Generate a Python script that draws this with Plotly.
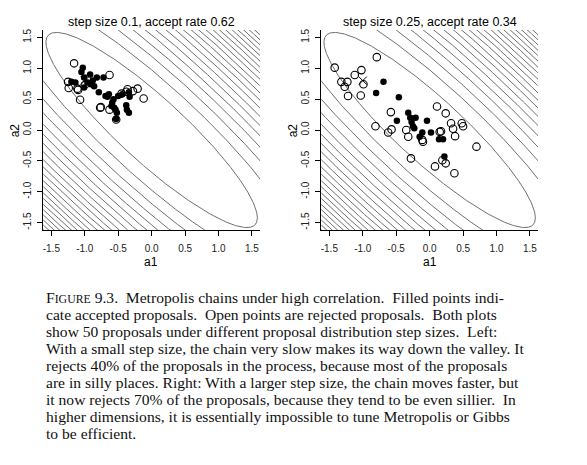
import numpy as np
import plotly.graph_objects as go

# target: bivariate normal, high negative correlation; contours of Mahalanobis Q
rho = -0.9
levels = [2.5 * k for k in range(1, 22)]

# left panel: step size 0.1
left_acc_a1 = [-1.03, -1.05, -0.92, -1.01, -0.82, -0.72, -1.14, -0.96, -0.91, -0.86, -1.01,
               -0.79, -0.64, -0.66, -0.57, -0.59, -0.44, -0.34, -0.33, -0.54, -0.52, -0.37,
               -0.34, -0.53, -1.20, -0.88, -0.60, -0.56, -0.38, -0.69, -0.50]
left_acc_a2 = [1.01, 0.94, 0.90, 0.85, 0.85, 0.85, 0.77, 0.77, 0.74, 0.71, 0.69,
               0.61, 0.58, 0.54, 0.50, 0.44, 0.58, 0.61, 0.54, 0.33, 0.28, 0.33,
               0.28, 0.18, 0.78, 0.80, 0.39, 0.36, 0.40, 0.55, 0.55]
left_rej_a1 = [-1.16, -1.25, -1.24, -1.11, -1.10, -1.07, -0.96, -0.63, -0.77, -0.76,
               -0.63, -0.45, -0.36, -0.28, -0.21, -0.12, -0.53, -0.38, -1.00]
left_rej_a2 = [1.08, 0.78, 0.68, 0.67, 0.65, 0.49, 0.83, 0.89, 0.36, 0.37,
               0.33, 0.59, 0.66, 0.63, 0.67, 0.51, 0.17, 0.62, 0.73]

# right panel: step size 0.25
right_acc_a1 = [-0.69, -0.80, -0.46, -0.49, -0.32, -0.29, -0.27, -0.21, -0.23, -0.04,
                -0.11, 0.02, -0.15, 0.14, 0.20, 0.22, -0.25]
right_acc_a2 = [0.78, 0.60, 0.53, 0.15, 0.28, 0.20, 0.13, 0.20, 0.03, 0.15,
                -0.04, -0.04, -0.11, -0.15, -0.15, -0.43, 0.06]
right_rej_a1 = [-1.42, -0.79, -1.02, -1.12, -1.32, -1.23, -1.27, -1.22, -1.03, -0.99,
                -0.81, -0.58, -0.57, -0.62, -0.35, -0.32, -0.11, -0.10, -0.28, 0.08,
                0.11, 0.24, 0.15, 0.17, 0.32, 0.35, 0.38, 0.48, 0.50, 0.70,
                0.19, 0.24, 0.37]
right_rej_a2 = [1.01, 1.18, 0.97, 0.89, 0.78, 0.78, 0.70, 0.55, 0.56, 0.74,
                0.06, 0.29, 0.01, -0.04, 0.0, -0.11, -0.16, -0.19, -0.46, -0.59,
                0.38, 0.27, -0.03, -0.02, 0.11, 0.02, -0.10, 0.11, 0.06, -0.27,
                -0.49, -0.54, -0.70]

start_a1 = [-1.0]
start_a2 = [0.8]

titles = ["step size 0.1, accept rate 0.62", "step size 0.25, accept rate 0.34"]
tick_vals = [-1.5, -1.0, -0.5, 0.0, 0.5, 1.0, 1.5]
tick_text = ["-1.5", "-1.0", "-0.5", "0.0", "0.5", "1.0", "1.5"]

caption = [
    'F<span style="font-size:11.8px">IGURE</span> 9.3.  Metropolis chains under high correlation.  Filled points indi-',
    "cate accepted proposals.  Open points are rejected proposals.  Both plots",
    "show 50 proposals under different proposal distribution step sizes.  Left:",
    "With a small step size, the chain very slow makes its way down the valley. It",
    "rejects 40% of the proposals in the process, because most of the proposals",
    "are in silly places. Right: With a larger step size, the chain moves faster, but",
    "it now rejects 70% of the proposals, because they tend to be even sillier.  In",
    "higher dimensions, it is essentially impossible to tune Metropolis or Gibbs",
    "to be efficient.",
]

# page has an 8px body margin, so the figure is a bit smaller and shifted
PAD = 8
W, H = 587 - PAD, 465 - PAD


def px(x):
    return (x - PAD) / W


def py(y):
    return 1 - (y - PAD) / H


rng = [-1.62, 1.62]

# contour ellipses, one after another, split by None
theta = np.linspace(0, 2 * np.pi, 3000)
cx, cy = [], []
for q in levels:
    u = np.sqrt(q * (1 - rho)) * np.cos(theta)
    v = np.sqrt(q * (1 + rho)) * np.sin(theta)
    cx += list((u + v) / np.sqrt(2)) + [None]
    cy += list((v - u) / np.sqrt(2)) + [None]

fig = go.Figure()
panels = [(left_acc_a1, left_acc_a2, left_rej_a1, left_rej_a2),
          (right_acc_a1, right_acc_a2, right_rej_a1, right_rej_a2)]
for i, (ax1, ay1, rx1, ry1) in enumerate(panels):
    xa = "x" if i == 0 else "x2"
    ya = "y" if i == 0 else "y2"
    fig.add_trace(go.Scatter(x=cx, y=cy, mode="lines", xaxis=xa, yaxis=ya,
                             line=dict(color="#707070", width=1), hoverinfo="skip"))
    fig.add_trace(go.Scatter(x=ax1, y=ay1, mode="markers", xaxis=xa, yaxis=ya,
                             marker=dict(symbol="circle", size=6.5, color="black")))
    fig.add_trace(go.Scatter(x=rx1, y=ry1, mode="markers", xaxis=xa, yaxis=ya,
                             marker=dict(symbol="circle-open", size=7.5, color="black",
                                         line=dict(width=1.1))))
    fig.add_trace(go.Scatter(x=start_a1, y=start_a2, mode="markers", xaxis=xa, yaxis=ya,
                             marker=dict(symbol="x-thin-open", size=8, color="black",
                                         line=dict(width=1))))

axis_style = dict(range=rng, showgrid=False, zeroline=False, showline=True, linecolor="black",
                  linewidth=1, ticks="outside", ticklen=5, tickcolor="black", tickwidth=1,
                  tickvals=tick_vals, ticktext=tick_text,
                  tickfont=dict(family="Liberation Sans", size=10, color="#222"))

ydom = [py(230), py(30)]
fig.update_layout(
    width=W, height=H, margin=dict(l=0, r=0, t=0, b=0),
    paper_bgcolor="white", plot_bgcolor="white", showlegend=False,
    xaxis=dict(domain=[px(43.3), px(260)], anchor="y", ticklabelstandoff=4, **axis_style),
    yaxis=dict(domain=ydom, anchor="x", tickangle=-90, ticklabelstandoff=2, **axis_style),
    xaxis2=dict(domain=[px(321.3), px(538)], anchor="y2", ticklabelstandoff=4, **axis_style),
    yaxis2=dict(domain=ydom, anchor="x2", tickangle=-90, ticklabelstandoff=2, **axis_style),
)

sans = dict(family="Liberation Sans", color="black")
centers = [151.2, 429.7]
lefts = [43.3, 321.3]
for i in range(2):
    fig.add_annotation(x=px(centers[i]), y=py(22.5), xref="paper", yref="paper", text=titles[i],
                       showarrow=False, font=dict(size=12.5, **sans), xanchor="center", yanchor="middle")
    fig.add_annotation(x=px(centers[i]), y=py(262), xref="paper", yref="paper", text="a1",
                       showarrow=False, font=dict(size=12, **sans), xanchor="center", yanchor="middle")
    fig.add_annotation(x=px(lefts[i] - 28), y=py(130), xref="paper", yref="paper", text="a2",
                       showarrow=False, textangle=-90, font=dict(size=12, **sans),
                       xanchor="center", yanchor="middle")

for k, line in enumerate(caption):
    fig.add_annotation(x=px(44), y=py(297 + 17 * k), xref="paper", yref="paper", text=line,
                       showarrow=False, xanchor="left", yanchor="middle", align="left",
                       font=dict(family="Liberation Serif", size=15.6, color="#111"))

fig.write_html("out.html")
